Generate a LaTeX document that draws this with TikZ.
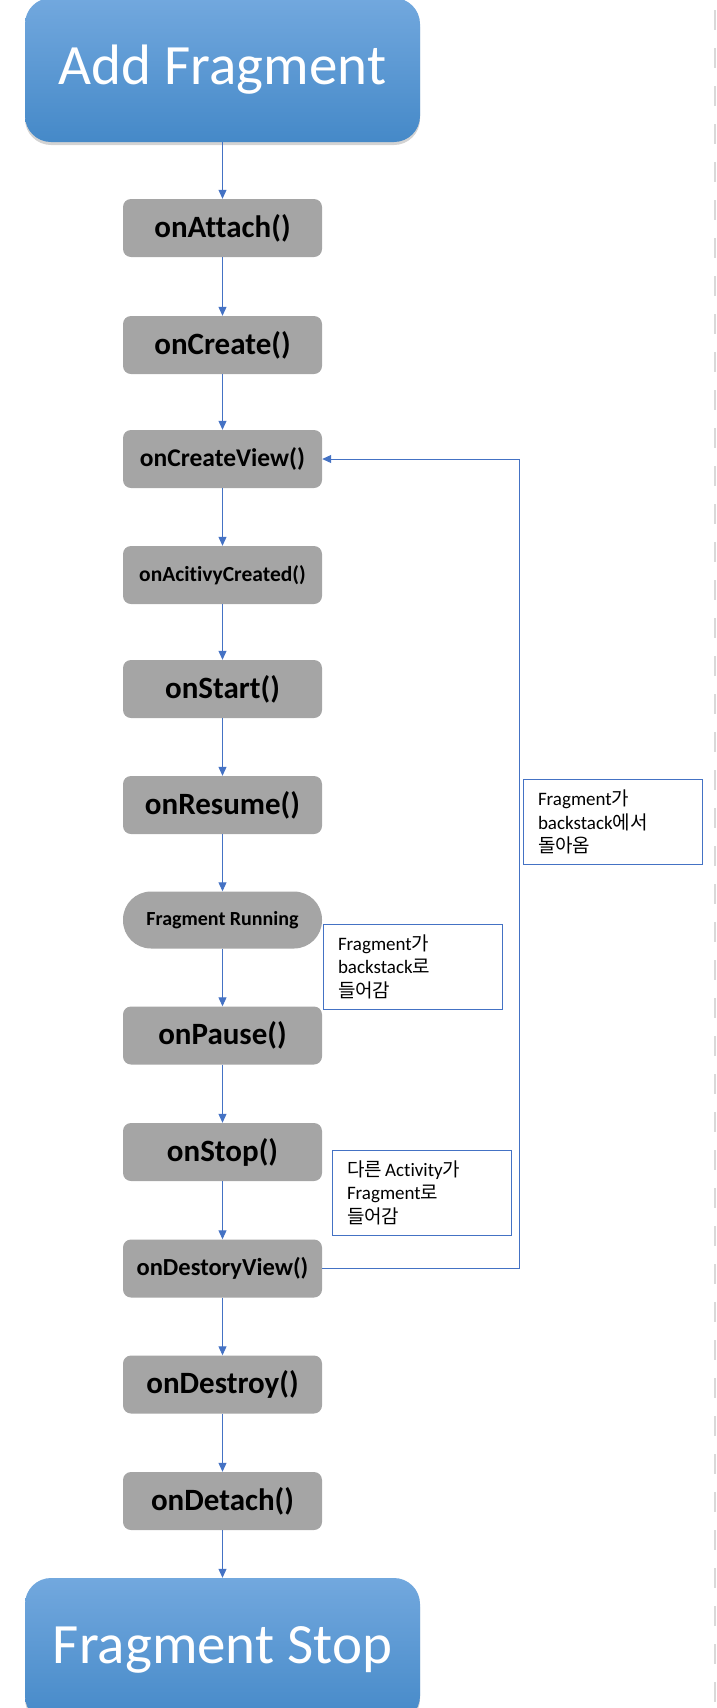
\documentclass[tikz,border=0pt]{standalone}
\usepackage{fontspec}
\setmainfont{Carlito}[Ligatures={CommonOff}]
\newfontfamily\kr{Noto Sans CJK KR}
\usepackage{xcolor}
\definecolor{flowblue}{RGB}{68,114,196}
\definecolor{stepgray}{RGB}{165,165,165}
\definecolor{topblue}{RGB}{114,168,222}
\definecolor{botblue}{RGB}{69,137,200}
\usetikzlibrary{arrows.meta, shadows}

\tikzset{
  endbox/.style={rounded corners=26pt, top color=topblue, bottom color=botblue,
    draw=none, text=white, minimum width=395pt, minimum height=144pt,
    font=\fontsize{57}{64}\selectfont,
    drop shadow={opacity=0.35, shadow xshift=0pt, shadow yshift=-3pt}},
  lifebox/.style={rounded corners=8pt, fill=stepgray, draw=none, text=black,
    minimum width=199pt, minimum height=58pt, font=\bfseries\fontsize{31}{36}\selectfont},
  notebox/.style={draw=flowblue, line width=0.8pt, fill=white, align=left,
    text width=149pt, inner xsep=15pt, minimum height=85pt,
    font=\fontsize{19}{23.5}\selectfont},
  flow/.style={draw=flowblue, line width=1pt, -{Triangle[width=8pt,length=9pt]}}
}

\begin{document}
\begin{tikzpicture}[x=1pt,y=-1pt]
  \useasboundingbox (0,0) rectangle (716,1708);
  % screen edge marks
  \draw[gray!30, line width=1.5pt, dash pattern=on 20pt off 18pt] (715,10) -- (715,1708);

  % --- Start and end ---
  \node[endbox] (add) at (222.5,70) {Add Fragment};
  \node[endbox] (fstop) at (222.5,1650) {Fragment Stop};

  % --- Lifecycle steps ---
  \node[lifebox] (attach) at (222.5,228) {onAttach()};
  \node[lifebox] (create) at (222.5,345) {onCreate()};
  \node[lifebox, font=\bfseries\fontsize{25.5}{30}\selectfont] (createview) at (222.5,459) {onCreateView()};
  \node[lifebox, font=\bfseries\fontsize{21.5}{26}\selectfont] (actcreated) at (222.5,575) {onAcitivyCreated()};
  \node[lifebox] (start) at (222.5,689) {onStart()};
  \node[lifebox] (resume) at (222.5,805) {onResume()};
  \node[lifebox, rounded corners=28pt, minimum height=57pt, font=\bfseries\fontsize{20}{24}\selectfont] (running) at (222.5,920) {Fragment Running};
  \node[lifebox] (pause) at (222.5,1035.5) {onPause()};
  \node[lifebox] (stop) at (222.5,1152) {onStop()};
  \node[lifebox, font=\bfseries\fontsize{24.5}{29}\selectfont] (destroyview) at (222.5,1268.5) {onDestoryView()};
  \node[lifebox] (destroy) at (222.5,1384.5) {onDestroy()};
  \node[lifebox] (detach) at (222.5,1501) {onDetach()};

  % --- Main flow ---
  \draw[flow] (add) -- (attach);
  \draw[flow] (attach) -- (create);
  \draw[flow] (create) -- (createview);
  \draw[flow] (createview) -- (actcreated);
  \draw[flow] (actcreated) -- (start);
  \draw[flow] (start) -- (resume);
  \draw[flow] (resume) -- (running);
  \draw[flow] (running) -- (pause);
  \draw[flow] (pause) -- (stop);
  \draw[flow] (stop) -- (destroyview);
  \draw[flow] (destroyview) -- (destroy);
  \draw[flow] (destroy) -- (detach);
  \draw[flow] (detach) -- (fstop);

  % --- Back stack loop ---
  \coordinate (loopturn) at (519,1268.5);
  \draw[flow] (destroyview.east) -- (loopturn) |- (createview.east);

  % --- Notes ---
  \node[notebox] (backin) at (412.5,966.5) {Fragment{\kr 가}\\backstack{\kr 로}\\{\kr 들어감}};
  \node[notebox] (otheract) at (421.5,1192.5) {{\kr 다른}\,Activity{\kr 가}\\Fragment{\kr 로}\\{\kr 들어감}};
  \node[notebox] (backout) at (612.5,822) {Fragment{\kr 가}\\backstack{\kr 에서}\\{\kr 돌아옴}};
\end{tikzpicture}
\end{document}
